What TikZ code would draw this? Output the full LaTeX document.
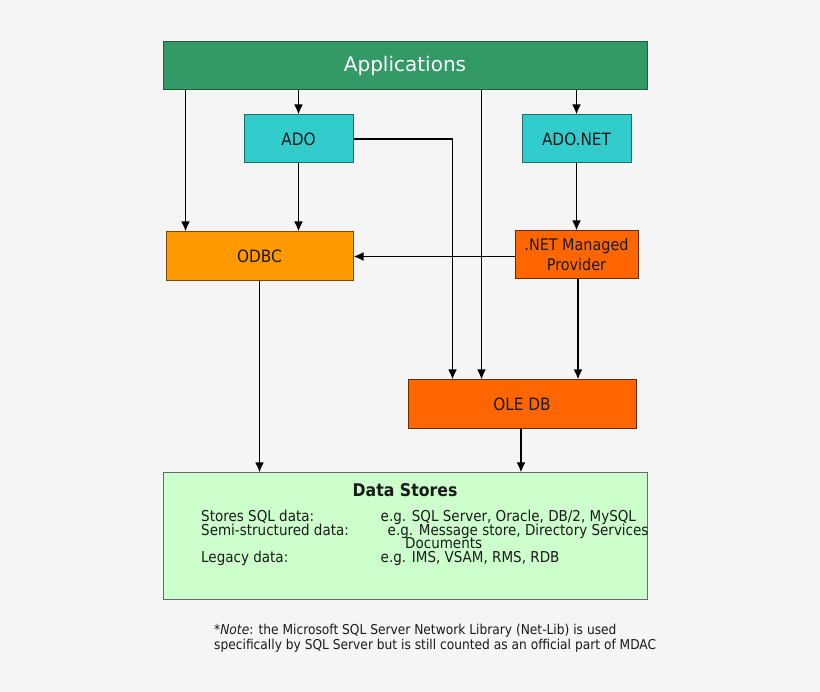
\documentclass[tikz,border=0pt]{standalone}
\usepackage{fontspec}
\setmainfont{DejaVu Sans}[FakeStretch=0.9]
\newfontfamily\plainfont{DejaVu Sans}
\usetikzlibrary{arrows.meta,calc}
\definecolor{bgc}{HTML}{F5F5F5}
\definecolor{appfill}{HTML}{339966}
\definecolor{appdraw}{HTML}{1F5E3E}
\definecolor{adofill}{HTML}{33CCCC}
\definecolor{adodraw}{HTML}{1F6F6F}
\definecolor{odbcfill}{HTML}{FF9900}
\definecolor{odbcdraw}{HTML}{7A4A10}
\definecolor{oledbfill}{HTML}{FF6600}
\definecolor{oledbdraw}{HTML}{6A2A00}
\definecolor{dsfill}{HTML}{CCFFCC}
\definecolor{dsdraw}{HTML}{6A6A6A}
\definecolor{txt}{HTML}{1A1A1A}
\tikzset{
  box/.style={rectangle, inner sep=0pt, line width=1pt, align=center, text=txt, font=\fontsize{17}{20}\selectfont},
  arr/.style={line width=1.9pt, -{Latex[length=10pt,width=9pt]}},
  dstext/.style={anchor=base west, inner sep=0pt, text=txt, font=\fontsize{15}{14}\selectfont},
  notetext/.style={anchor=base west, inner sep=0pt, text=txt, font=\fontsize{13.6}{15}\selectfont},
}
\begin{document}
\begin{tikzpicture}[x=1pt,y=-1pt]
\fill[bgc] (0,0) rectangle (820,692);
\useasboundingbox (0,0) rectangle (820,692);

\node[box, fill=appfill, draw=appdraw, minimum width=484pt, minimum height=48pt, text=white, font=\plainfont\fontsize{20}{24}\selectfont] (apps) at (405,66) {Applications};
\node[box, fill=adofill, draw=adodraw, minimum width=109pt, minimum height=48pt] (ado) at (298.5,139) {ADO};
\node[box, fill=adofill, draw=adodraw, minimum width=109pt, minimum height=48pt] (adonet) at (576.5,139) {ADO.NET};
\node[box, fill=odbcfill, draw=odbcdraw, minimum width=187pt, minimum height=49pt] (odbc) at (259.5,256.5) {ODBC};
\node[box, fill=oledbfill, draw=oledbdraw, minimum width=123pt, minimum height=48pt, font=\fontsize{16}{20}\selectfont] (netmp) at (576.5,255) {.NET Managed\\Provider};
\node[box, fill=oledbfill, draw=oledbdraw, minimum width=228pt, minimum height=49pt] (oledb) at (522,404.5) {OLE DB};
\node[box, fill=dsfill, draw=dsdraw, minimum width=484pt, minimum height=126pt] (ds) at (405,536) {};

\node[anchor=base, inner sep=0pt, text=txt, font=\bfseries\fontsize{17.5}{20}\selectfont] (dstitle) at (405,497) {Data Stores};
\node[dstext] (l1a) at (201,521.5) {Stores SQL data:};
\node[dstext] (l1b) at (380.5,521.5) {e.g. SQL Server, Oracle, DB/2, MySQL};
\node[dstext] (l2a) at (201,535.5) {Semi-structured data:};
\node[dstext] (l2b) at (387.5,535.5) {e.g. Message store, Directory Services};
\node[dstext] (l3b) at (405,549) {Documents};
\node[dstext] (l4a) at (201,563) {Legacy data:};
\node[dstext] (l4b) at (380.5,563) {e.g. IMS, VSAM, RMS, RDB};

\node[notetext] (note1) at (214,634) {*\textit{Note}: the Microsoft SQL Server Network Library (Net-Lib) is used};
\node[notetext] (note2) at (214,649) {specifically by SQL Server but is still counted as an official part of MDAC};

\coordinate (odbcin) at ([xshift=20pt]odbc.north west);
\coordinate (oleA) at ([xshift=45pt]oledb.north west);
\coordinate (oleB) at ([xshift=74pt]oledb.north west);

\draw[arr] (apps.south -| odbcin) -- (odbcin);
\draw[arr] (apps.south -| ado.north) -- (ado.north);
\draw[arr] (apps.south -| oleB) -- (oleB);
\draw[arr] (apps.south -| adonet.north) -- (adonet.north);
\draw[arr] (ado.south) -- (ado.south |- odbc.north);
\draw[arr] (ado.east) -| (oleA);
\draw[arr] (adonet.south) -- (netmp.north);
\draw[arr] (odbc.east -| netmp.west) -- (odbc.east);
\draw[arr] ([xshift=1.5pt]netmp.south) -- ([xshift=1.5pt]netmp.south |- oledb.north);
\draw[arr] (odbc.south) -- (odbc.south |- ds.north);
\draw[arr] ([xshift=-1pt]oledb.south) -- ([xshift=-1pt]oledb.south |- ds.north);
\end{tikzpicture}
\end{document}
